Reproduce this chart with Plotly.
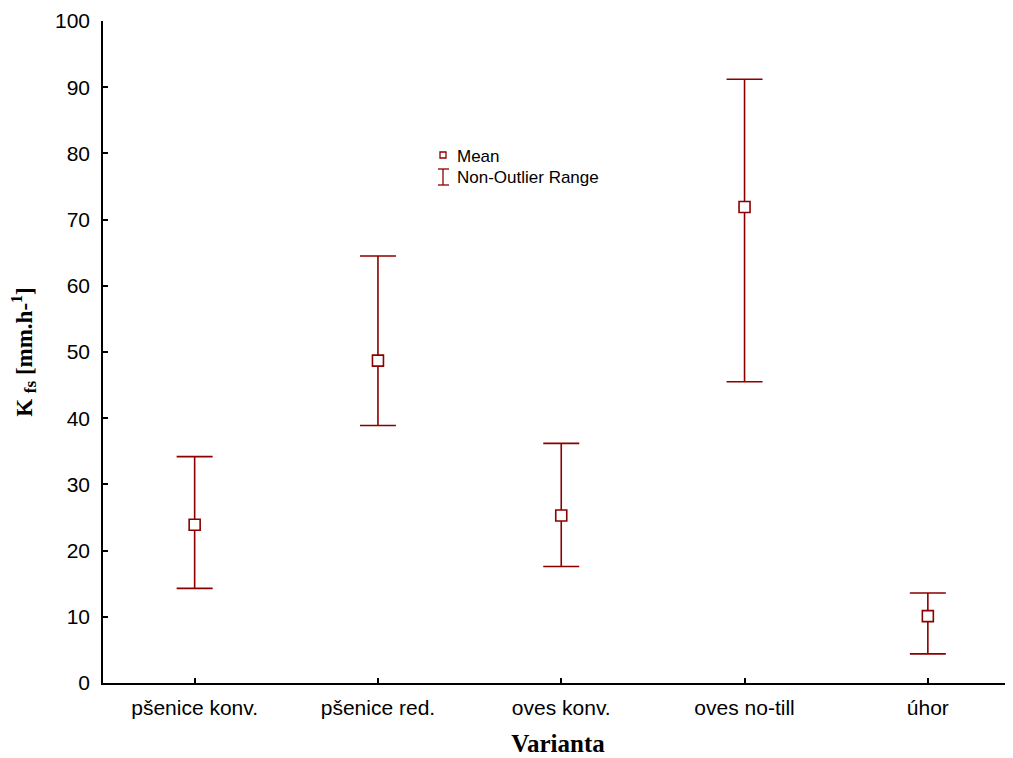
import plotly.graph_objects as go

categories = ["pšenice konv.", "pšenice red.", "oves konv.", "oves no-till", "úhor"]
means = [23.9, 48.7, 25.3, 71.9, 10.1]
upper = [34.2, 64.5, 36.2, 91.2, 13.6]
lower = [14.3, 38.9, 17.6, 45.5, 4.4]
y_ticks = [0, 10, 20, 30, 40, 50, 60, 70, 80, 90, 100]

RED = "#8b0000"
OFF = 8  # default body margin of the page
W, H = 1013 - OFF, 758 - OFF
ML, MR, MT, MB = 95, 0, 13, 75
PL, PT, PB = OFF + ML, OFF + MT, OFF + H - MB  # plot area in page pixels
PW = W - ML - MR


def px(x):
    return (x - PL) / PW


def py(y):
    return (PB - y) / (PB - PT)


xs = list(range(len(categories)))
fig = go.Figure()
fig.add_trace(go.Scatter(
    x=xs, y=means, mode="markers",
    marker=dict(symbol="square", size=11, color="white", line=dict(color=RED, width=1.6)),
    error_y=dict(type="data", symmetric=False,
                 array=[u - m for u, m in zip(upper, means)],
                 arrayminus=[m - l for m, l in zip(means, lower)],
                 color=RED, thickness=1.6, width=18),
    showlegend=False, cliponaxis=False,
))

# manual legend
shapes = [
    dict(type="rect", xref="paper", yref="paper", x0=px(440), x1=px(446), y0=py(158), y1=py(152),
         line=dict(color=RED, width=1.3), fillcolor="white"),
    dict(type="line", xref="paper", yref="paper", x0=px(443), x1=px(443), y0=py(169), y1=py(185),
         line=dict(color=RED, width=1.3)),
    dict(type="line", xref="paper", yref="paper", x0=px(438), x1=px(449), y0=py(169), y1=py(169),
         line=dict(color=RED, width=1.3)),
    dict(type="line", xref="paper", yref="paper", x0=px(438), x1=px(449), y0=py(185), y1=py(185),
         line=dict(color=RED, width=1.3)),
]
legend_font = dict(family="Liberation Sans, Arial", size=17, color="black")
annotations = [
    dict(text="Mean", xref="paper", yref="paper", x=px(455), y=py(157), xanchor="left", yanchor="middle",
         showarrow=False, font=legend_font),
    dict(text="Non-Outlier Range", xref="paper", yref="paper", x=px(455), y=py(177), xanchor="left",
         yanchor="middle", showarrow=False, font=legend_font),
]

tick_font = dict(family="Liberation Sans, Arial", size=21, color="black")
title_family = "Liberation Serif, Times New Roman"

fig.update_layout(
    width=W, height=H,
    margin=dict(l=ML, r=MR, t=MT, b=MB),
    plot_bgcolor="white", paper_bgcolor="white",
    shapes=shapes, annotations=annotations,
    xaxis=dict(range=[-0.5, -0.5 + PW / 183.3], tickmode="array", tickvals=xs, ticktext=categories,
               showgrid=False, zeroline=False, showline=True, linecolor="black", linewidth=1.5,
               ticks="inside", ticklen=5, tickcolor="black", tickwidth=1.5,
               tickfont=tick_font, ticklabelstandoff=5,
               title=dict(text="<b>Varianta</b>", standoff=17,
                          font=dict(family=title_family, size=25, color="black"))),
    yaxis=dict(range=[0, 100], tickmode="array", tickvals=y_ticks,
               showgrid=False, zeroline=False, showline=True, linecolor="black", linewidth=1.5,
               ticks="inside", ticklen=5, tickcolor="black", tickwidth=1.5,
               tickfont=tick_font, ticklabelstandoff=7,
               title=dict(text="<b>K <sub><span style='font-size:17px'>fs</span></sub> [mm.h-<sup>1</sup>]</b>",
                          standoff=24,
                          font=dict(family=title_family, size=23, color="black"))),
)

fig.write_html("out.html")
